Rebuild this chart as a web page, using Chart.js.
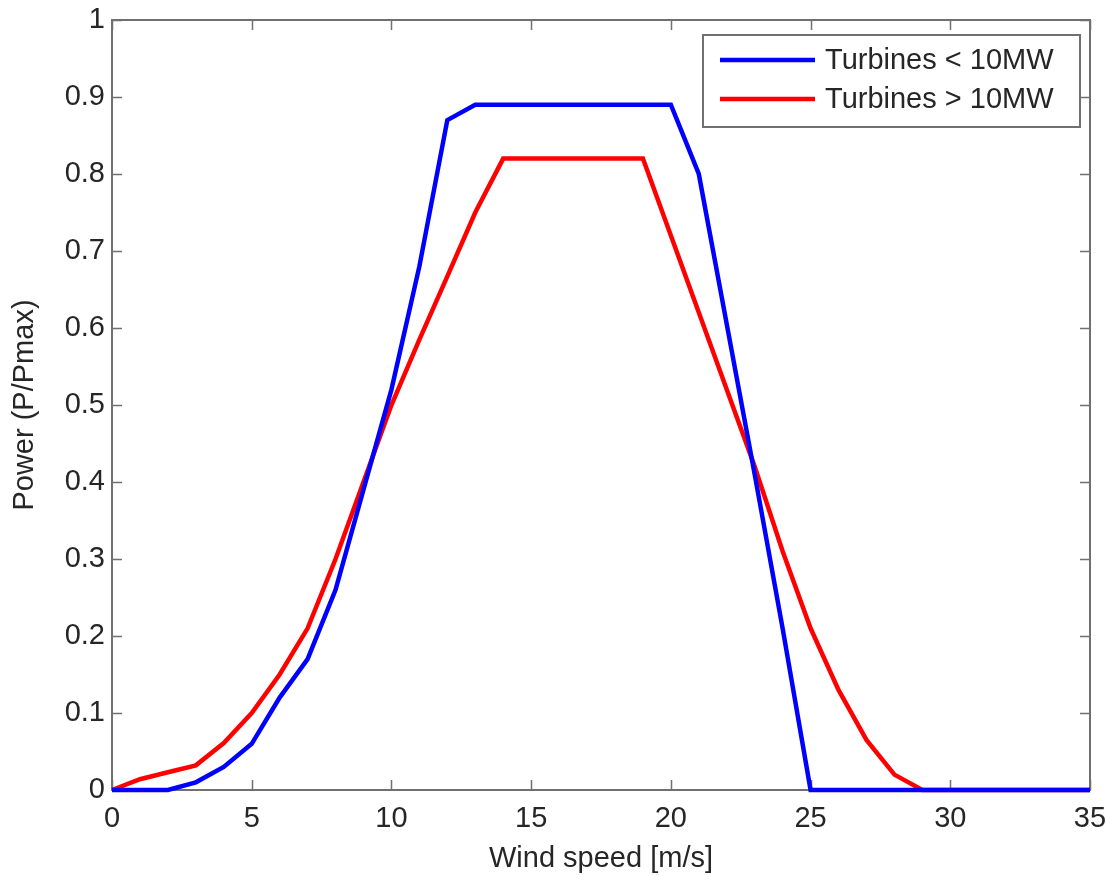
<!DOCTYPE html>
<html>
<head>
<meta charset="utf-8">
<script src="https://cdn.jsdelivr.net/npm/chart.js@4.4.1/dist/chart.umd.min.js"></script>
<style>
  html, body { margin: 0; padding: 0; background: #fff; }
  #wrap { width: 1112px; height: 876px; position: relative; }
</style>
</head>
<body>
<div id="wrap"><canvas id="c" width="1112" height="876"></canvas></div>
<script>
// ---- data ----
const windSpeed = [0,1,2,3,4,5,6,7,8,9,10,11,12,13,14,15,16,17,18,19,20,21,22,23,24,25,26,27,28,29,30,31,32,33,34,35];
const powerSmall = [0,0,0,0.01,0.03,0.06,0.12,0.17,0.26,0.39,0.52,0.68,0.87,0.89,0.89,0.89,0.89,0.89,0.89,0.89,0.89,0.80,0.605,0.41,0.21,0,0,0,0,0,0,0,0,0,0,0];
const powerLarge = [0,0.014,0.023,0.032,0.061,0.10,0.15,0.21,0.30,0.40,0.50,0.585,0.667,0.75,0.82,0.82,0.82,0.82,0.82,0.82,0.72,0.62,0.52,0.42,0.31,0.21,0.13,0.065,0.02,0,0,0,0,0,0,0];
const seriesNames = ['Turbines < 10MW', 'Turbines > 10MW'];
const xTicks = [0,5,10,15,20,25,30,35];
const xTickLabels = ['0','5','10','15','20','25','30','35'];
const yTicks = [0,0.1,0.2,0.3,0.4,0.5,0.6,0.7,0.8,0.9,1];
const yTickLabels = ['0','0.1','0.2','0.3','0.4','0.5','0.6','0.7','0.8','0.9','1'];
const xTitle = 'Wind speed [m/s]';
const yTitle = 'Power (P/Pmax)';

const FONT = '"Liberation Sans", Arial, Helvetica, sans-serif';
const TXT = '#262626';
const FRAME = '#707070';

const toPts = (ys) => windSpeed.map((x, i) => ({ x: x, y: ys[i] }));

// Frame with inward ticks (MATLAB style)
const framePlugin = {
  id: 'frame',
  beforeDatasetsDraw(chart) {
    const { ctx, chartArea: a, scales: { x, y } } = chart;
    const L = 10;
    ctx.save();
    ctx.strokeStyle = FRAME;
    ctx.lineWidth = 2;
    ctx.strokeRect(a.left, a.top, a.right - a.left, a.bottom - a.top);
    ctx.beginPath();
    xTicks.forEach(v => {
      const px = Math.round(x.getPixelForValue(v)) + 0.5;
      ctx.moveTo(px, a.bottom); ctx.lineTo(px, a.bottom - L);
      ctx.moveTo(px, a.top); ctx.lineTo(px, a.top + L);
    });
    yTicks.forEach(v => {
      const py = Math.round(y.getPixelForValue(v)) + 0.5;
      ctx.moveTo(a.left, py); ctx.lineTo(a.left + L, py);
      ctx.moveTo(a.right, py); ctx.lineTo(a.right - L, py);
    });
    ctx.lineWidth = 1.5;
    ctx.stroke();
    ctx.restore();
  }
};

// Legend box inside the plot, top-right
const legendPlugin = {
  id: 'insideLegend',
  afterDatasetsDraw(chart) {
    const { ctx, chartArea: a } = chart;
    const right = a.right - 10, top = a.top + 15;
    const w = 377, h = 92;
    const left = right - w;
    ctx.save();
    ctx.fillStyle = '#fff';
    ctx.fillRect(left, top, w, h);
    ctx.strokeStyle = FRAME;
    ctx.lineWidth = 2;
    ctx.strokeRect(left, top, w, h);
    ctx.font = '29px ' + FONT;
    ctx.textBaseline = 'middle';
    ctx.textAlign = 'left';
    chart.data.datasets.forEach((ds, i) => {
      const ly = top + 25 + i * 39;
      ctx.strokeStyle = ds.borderColor;
      ctx.lineWidth = 4.5;
      ctx.beginPath();
      ctx.moveTo(left + 17, ly);
      ctx.lineTo(left + 112, ly);
      ctx.stroke();
      ctx.fillStyle = TXT;
      ctx.fillText(ds.label, left + 122, ly + 1);
    });
    ctx.restore();
  }
};

new Chart(document.getElementById('c'), {
  type: 'line',
  data: {
    datasets: [
      { label: seriesNames[0], data: toPts(powerSmall), borderColor: '#0000ff', borderWidth: 4.5, pointRadius: 0, tension: 0, clip: false },
      { label: seriesNames[1], data: toPts(powerLarge), borderColor: '#ff0000', borderWidth: 4.5, pointRadius: 0, tension: 0, clip: false }
    ]
  },
  options: {
    responsive: false,
    animation: false,
    events: [],
    layout: { padding: { left: 0, right: 22, top: 20, bottom: 0 } },
    plugins: { legend: { display: false }, tooltip: { enabled: false }, title: { display: false } },
    scales: {
      x: {
        type: 'linear', min: 0, max: 35,
        afterBuildTicks: (s) => { s.ticks = xTicks.map(v => ({ value: v })); },
        afterFit: (s) => { s.height = 86; s.paddingLeft = 0; s.paddingRight = 0; },
        grid: { display: false, drawTicks: false },
        border: { display: false },
        ticks: {
          padding: 12, color: TXT, maxRotation: 0, autoSkip: false,
          font: { family: FONT, size: 29 },
          callback: (v, i) => xTickLabels[i]
        },
        title: { display: true, text: xTitle, color: TXT, font: { family: FONT, size: 29 }, padding: { top: 0, bottom: 0 } }
      },
      y: {
        type: 'linear', min: 0, max: 1,
        afterBuildTicks: (s) => { s.ticks = yTicks.map(v => ({ value: v })); },
        afterFit: (s) => { s.width = 112; s.paddingTop = 0; s.paddingBottom = 0; },
        grid: { display: false, drawTicks: false },
        border: { display: false },
        ticks: {
          padding: 7, color: TXT, autoSkip: false,
          font: { family: FONT, size: 29 },
          callback: (v, i) => yTickLabels[i]
        },
        title: { display: true, text: yTitle, color: TXT, font: { family: FONT, size: 29 }, padding: { top: 8, bottom: 0 } }
      }
    }
  },
  plugins: [framePlugin, legendPlugin]
});
</script>
</body>
</html>
